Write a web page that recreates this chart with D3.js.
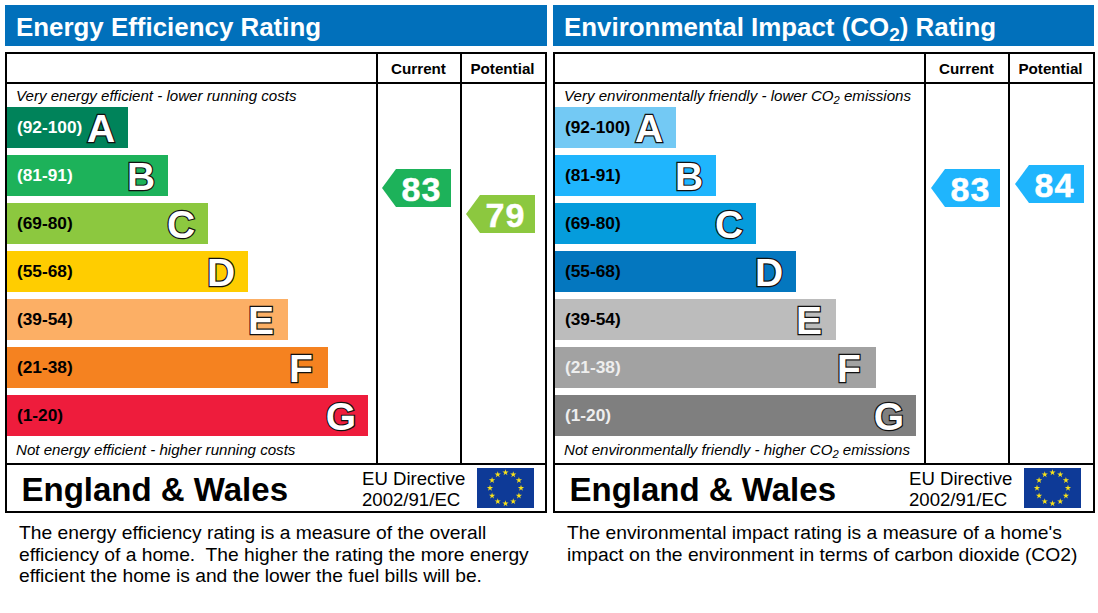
<!DOCTYPE html>
<html>
<head>
<meta charset="utf-8">
<script src="https://cdn.jsdelivr.net/npm/d3@7"></script>
<style>
  html, body { margin: 0; padding: 0; background: #fff; }
  svg { display: block; }
  text { font-family: "Liberation Sans", Arial, sans-serif; }
</style>
</head>
<body>
<div id="chart"></div>
<script>
const bandLetters = ["A", "B", "C", "D", "E", "F", "G"];
const bandRanges = ["(92-100)", "(81-91)", "(69-80)", "(55-68)", "(39-54)", "(21-38)", "(1-20)"];
const bandSteps = [1, 2, 3, 4, 5, 6, 7];
const columnNames = ["Current", "Potential"];
const energyRatings = [83, 79];
const co2Ratings = [83, 84];
const regionName = "England & Wales";
const directiveLines = ["EU Directive", "2002/91/EC"];
const energyText = [
  "The energy efficiency rating is a measure of the overall",
  "efficiency of a home.  The higher the rating the more energy",
  "efficient the home is and the lower the fuel bills will be."
];
const co2Text = [
  "The environmental impact rating is a measure of a home's",
  "impact on the environment in terms of carbon dioxide (CO2)"
];

const ENERGY_COLORS = ["#00835a", "#1db25a", "#8cc83f", "#ffcd00", "#fcaf65", "#f58220", "#ee1c3c"];
const CO2_COLORS = ["#73c9f4", "#1fb5fd", "#059cdc", "#0477bf", "#bcbcbc", "#a2a2a2", "#7f7f7f"];
const ENERGY_LABELS = ["#fff", "#fff", "#000", "#000", "#000", "#000", "#000"];
const CO2_LABELS = ["#000", "#000", "#000", "#000", "#000", "#eee", "#eee"];

const SVG_WIDTH = 1098;
const SVG_HEIGHT = 613;
const HEADER_BLUE = "#0170bb";

const svg = d3.select("#chart").append("svg")
  .attr("width", SVG_WIDTH)
  .attr("height", SVG_HEIGHT);

// bars step out by band, the rating tags sit on their own scale
const xScale = d3.scaleLinear().domain([1, 7]).range([128, 368]);
const yScale = d3.scaleBand().domain(bandLetters).range([107, 436]).paddingInner(7 / 48);
const ratingY = d3.scaleLinear().domain([84, 83, 79]).range([184, 188, 214]);
const columnX = d3.scaleBand().domain(columnNames).range([377, 461 + 84]);

function addTextWithSub(sel, parts) {
  // parts: plain strings, or [string] for a subscript
  parts.forEach(p => {
    if (Array.isArray(p)) {
      sel.append("tspan").attr("font-size", "0.74em").attr("dy", "0.26em").text(p[0]);
    } else {
      const t = sel.append("tspan").text(p);
      if (sel.selectAll("tspan").size() > 1) t.attr("dy", "-0.19em");
    }
  });
}

function drawFrame(g, right) {
  const line = (x1, y1, x2, y2) => g.append("line")
    .attr("x1", x1).attr("y1", y1).attr("x2", x2).attr("y2", y2)
    .attr("stroke", "#000").attr("stroke-width", 2);
  g.append("rect").attr("x", 6).attr("y", 53).attr("width", right - 6).attr("height", 459)
    .attr("fill", "none").attr("stroke", "#000").attr("stroke-width", 2);
  line(6, 83, right, 83);
  line(6, 464, right, 464);
  line(377, 53, 377, 464);
  line(461, 53, 461, 464);
}

function drawBars(g, colors, labelColors) {
  const rows = g.selectAll(".band").data(bandLetters).enter().append("g").attr("class", "band");
  rows.append("rect")
    .attr("x", 7)
    .attr("y", d => yScale(d))
    .attr("width", (d, i) => xScale(bandSteps[i]) - 7)
    .attr("height", yScale.bandwidth())
    .attr("fill", (d, i) => colors[i]);
  rows.append("text")
    .attr("x", 17)
    .attr("y", d => yScale(d) + yScale.bandwidth() / 2 + 5.5)
    .attr("font-size", 17.3)
    .attr("font-weight", "bold")
    .attr("fill", (d, i) => labelColors[i])
    .text((d, i) => bandRanges[i]);
  rows.append("text")
    .attr("x", (d, i) => xScale(bandSteps[i]) - 27)
    .attr("y", d => yScale(d) + yScale.bandwidth() / 2 + 14.5)
    .attr("text-anchor", "middle")
    .attr("font-size", 39)
    .attr("font-weight", "bold")
    .attr("fill", "#fff")
    .attr("stroke", "#111")
    .attr("stroke-width", 2.4)
    .attr("paint-order", "stroke")
    .text(d => d);
}

function drawRatings(g, ratings, colors, shift) {
  const colorOf = v => colors[bandRanges.findIndex(r => {
    const [lo, hi] = r.slice(1, -1).split("-").map(Number);
    return v >= lo && v <= hi;
  })];
  const line = d3.line();
  ratings.forEach((v, i) => {
    const x = columnX(columnNames[i]) + shift;
    const y = ratingY(v);
    g.append("path")
      .attr("d", line([[x + 5, y], [x + 19, y - 19], [x + 74, y - 19], [x + 74, y + 19], [x + 19, y + 19]]) + "Z")
      .attr("fill", colorOf(v));
    g.append("text")
      .attr("x", x + 44.5)
      .attr("y", y + 13)
      .attr("text-anchor", "middle")
      .attr("font-family", "DejaVu Sans")
      .attr("font-size", 34)
      .attr("letter-spacing", 1)
      .attr("font-weight", "bold")
      .attr("fill", "#fff")
      .attr("stroke", "#fff")
      .attr("stroke-width", 0.5)
      .text(v);
  });
}

function drawFlag(g, shift) {
  const flagX = 477 + shift, flagY = 468, flagW = 57, flagH = 40;
  g.append("rect").attr("x", flagX).attr("y", flagY).attr("width", flagW).attr("height", flagH).attr("fill", "#0e3a97");
  const star = d3.symbol().type(d3.symbolStar).size(12);
  g.selectAll(".star").data(d3.range(12)).enter().append("path")
    .attr("class", "star")
    .attr("d", star)
    .attr("fill", "#f7e11b")
    .attr("transform", d => {
      const a = d * Math.PI / 6;
      return `translate(${flagX + flagW / 2 + 15.5 * Math.sin(a)},${flagY + flagH / 2 - 15.5 * Math.cos(a)})`;
    });
}

function drawPanel(opts) {
  const g = svg.append("g").attr("transform", `translate(${opts.dx},0)`);

  g.append("rect").attr("x", 5).attr("y", 5).attr("width", opts.headerW).attr("height", 41).attr("fill", HEADER_BLUE);
  const title = g.append("text").attr("x", 16).attr("y", 36)
    .attr("font-size", 25.9).attr("font-weight", "bold").attr("fill", "#fff");
  addTextWithSub(title, opts.title);

  drawFrame(g, opts.right);

  g.selectAll(".col").data(columnNames).enter().append("text")
    .attr("class", "col")
    .attr("x", d => columnX(d) + columnX.bandwidth() / 2 - 0.5)
    .attr("y", 74)
    .attr("text-anchor", "middle")
    .attr("font-size", 15.2)
    .attr("font-weight", "bold")
    .attr("fill", "#000")
    .text(d => d);

  const top = g.append("text").attr("x", opts.noteX).attr("y", 101).attr("font-size", 15.1).attr("font-style", "italic").attr("fill", "#000");
  addTextWithSub(top, opts.topNote);
  const bottom = g.append("text").attr("x", opts.noteX).attr("y", 455).attr("font-size", 15.1).attr("font-style", "italic").attr("fill", "#000");
  addTextWithSub(bottom, opts.bottomNote);

  drawBars(g, opts.colors, opts.labels);
  drawRatings(g, opts.ratings, opts.colors, opts.tagShift);

  g.append("text").attr("x", 21.5).attr("y", 501)
    .attr("font-size", 33).attr("font-weight", "bold").attr("fill", "#000").text(regionName);
  g.selectAll(".directive").data(directiveLines).enter().append("text")
    .attr("class", "directive")
    .attr("x", 362 + opts.directiveShift)
    .attr("y", (d, i) => 485 + i * 21)
    .attr("font-size", 18.6)
    .attr("fill", "#000")
    .text(d => d);
  drawFlag(g, opts.directiveShift);

  g.selectAll(".para").data(opts.text).enter().append("text")
    .attr("class", "para")
    .attr("x", 19)
    .attr("y", (d, i) => 539 + i * 21.5)
    .attr("font-size", 19.25)
    .attr("fill", "#000")
    .style("white-space", "pre")
    .text(d => d);
}

drawPanel({
  dx: 0, right: 546, headerW: 542, noteX: 16, directiveShift: 0, tagShift: 0,
  title: ["Energy Efficiency Rating"],
  topNote: ["Very energy efficient - lower running costs"],
  bottomNote: ["Not energy efficient - higher running costs"],
  colors: ENERGY_COLORS, labels: ENERGY_LABELS,
  ratings: energyRatings, text: energyText
});
drawPanel({
  dx: 548, right: 546, headerW: 541, noteX: 16, directiveShift: -1, tagShift: 1,
  title: ["Environmental Impact (CO", ["2"], ") Rating"],
  topNote: ["Very environmentally friendly - lower CO", ["2"], " emissions"],
  bottomNote: ["Not environmentally friendly - higher CO", ["2"], " emissions"],
  colors: CO2_COLORS, labels: CO2_LABELS,
  ratings: co2Ratings, text: co2Text
});
</script>
</body>
</html>
